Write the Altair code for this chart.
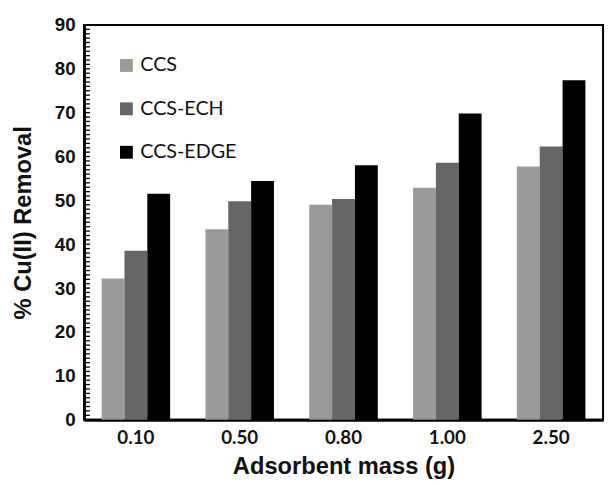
import altair as alt
import pandas as pd

masses = ["0.10", "0.50", "0.80", "1.00", "2.50"]
series = ["CCS", "CCS-ECH", "CCS-EDGE"]
ccs = [32.2, 43.4, 49.0, 52.9, 57.7]
ech = [38.5, 49.8, 50.3, 58.6, 62.3]
edge = [51.5, 54.4, 58.0, 69.8, 77.4]
colors = ["#9a9a9a", "#666666", "#000000"]
y_labels = list(range(0, 91, 10))
minor_ticks = [v for v in range(0, 91, 1)]

rows = []
for name, vals in zip(series, [ccs, ech, edge]):
    for m, v in zip(masses, vals):
        rows.append({"mass": m, "series": name, "value": v})
df = pd.DataFrame(rows)

yscale = alt.Scale(domain=[0, 90], nice=False)

bars = alt.Chart(df).mark_bar().encode(
    x=alt.X("mass:N", sort=masses, title="Adsorbent mass (g)",
            scale=alt.Scale(paddingInner=0.34, paddingOuter=0.17),
            axis=alt.Axis(labelAngle=0, ticks=False, domainWidth=3, domainColor="black",
                          labelFont="Lato", labelFontWeight="bold", labelFontSize=19,
                          labelColor="#111", labelPadding=9,
                          titleFont="Liberation Sans", titleFontWeight="bold",
                          titleFontSize=24, titleColor="#111", titlePadding=8)),
    xOffset=alt.XOffset("series:N", sort=series, scale=alt.Scale(paddingInner=0, paddingOuter=0)),
    y=alt.Y("value:Q", title="% Cu(II) Removal", scale=yscale,
            axis=alt.Axis(values=y_labels, ticks=False, domainWidth=3, domainColor="black",
                          grid=False, labelFont="Liberation Sans", labelFontWeight="bold",
                          labelFontSize=19, labelColor="#111", labelPadding=9,
                          titleFont="Liberation Sans", titleFontWeight="bold",
                          titleFontSize=24, titleColor="#111", titlePadding=19)),
    color=alt.Color("series:N", sort=series, title=None,
                    scale=alt.Scale(domain=series, range=colors),
                    legend=alt.Legend(orient="none", legendX=33, legendY=31,
                                      symbolType="square", symbolSize=170,
                                      symbolStrokeWidth=0, labelFont="Lato",
                                      labelFontSize=20, labelColor="#111",
                                      rowPadding=24, labelOffset=4, padding=0)),
)

ticks = alt.Chart(pd.DataFrame({"value": minor_ticks})).mark_rule(color="black", strokeWidth=1.3).encode(
    y=alt.Y("value:Q"), x=alt.value(0), x2=alt.value(6)
)

chart = alt.layer(bars, ticks).properties(
    width=526, height=400,
    autosize=alt.AutoSizeParams(type="none"),
    padding={"left": 77, "top": 14, "right": 3, "bottom": 63},
).configure_view(stroke="black", strokeWidth=2)

chart.save("out.html", embed_options={"renderer": "svg", "actions": False})
